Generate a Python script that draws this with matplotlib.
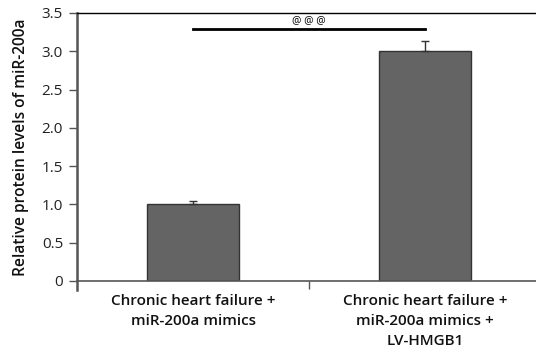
import matplotlib
matplotlib.use("Agg")
import matplotlib.pyplot as plt

groups = ["Chronic heart failure +\nmiR-200a mimics",
          "Chronic heart failure +\nmiR-200a mimics +\nLV-HMGB1"]
values = [1.0, 3.0]
errors = [0.04, 0.14]
yticks = [0, 0.5, 1.0, 1.5, 2.0, 2.5, 3.0, 3.5]
ytick_labels = ["0", "0.5", "1.0", "1.5", "2.0", "2.5", "3.0", "3.5"]
sig_label = "@ @ @"
sig_height = 3.29

plt.rcParams['font.family'] = ['Open Sans', 'DejaVu Sans']

fig = plt.figure(figsize=(5.36, 3.54), dpi=100)
ax = fig.add_axes([77 / 536, 1 - 281 / 354, 1 - 77 / 536, 268 / 354])

x = list(range(len(groups)))
ax.bar(x, values, width=0.4, color="#646464", edgecolor="#333333", linewidth=1.0, zorder=2)
ax.errorbar(x, values, yerr=[[0, 0], errors], fmt="none", ecolor="#333333",
            elinewidth=1.0, capsize=3, capthick=1.0, zorder=3)

# significance bar
ax.plot([x[0], x[1]], [sig_height, sig_height], color="black", linewidth=2, zorder=3)
ax.text(0.5, sig_height + 0.04, sig_label, ha="center", va="bottom", fontsize=7.5)

ax.set_ylim(0, 3.5)
ax.set_xlim(-0.5, 1.478)
ax.set_yticks(yticks)
ax.set_yticklabels(ytick_labels, fontsize=11, color="#222222")
ax.set_xticks([0.5])
ax.set_xticklabels([""])
for xi, g in zip(x, groups):
    ax.text(xi, -0.17, g, ha="center", va="top", fontsize=11, color="#111111",
            fontweight="semibold", linespacing=1.55)

ax.set_ylabel("Relative protein levels of miR-200a", fontsize=11.2, color="#111111",
              fontweight="semibold", labelpad=9)

ax.spines["right"].set_visible(False)
ax.spines["top"].set_color("black")
ax.spines["top"].set_linewidth(1.0)
ax.spines["left"].set_color("#555555")
ax.spines["left"].set_linewidth(1.8)
ax.spines["bottom"].set_color("#555555")
ax.spines["bottom"].set_linewidth(1.2)
ax.spines["left"].set_bounds(-0.12, 3.5)
ax.tick_params(axis="y", direction="out", length=6, width=1, color="#555555", pad=4)
ax.tick_params(axis="x", direction="out", length=6, width=1, color="#555555")

fig.savefig("out.png", dpi=100)
